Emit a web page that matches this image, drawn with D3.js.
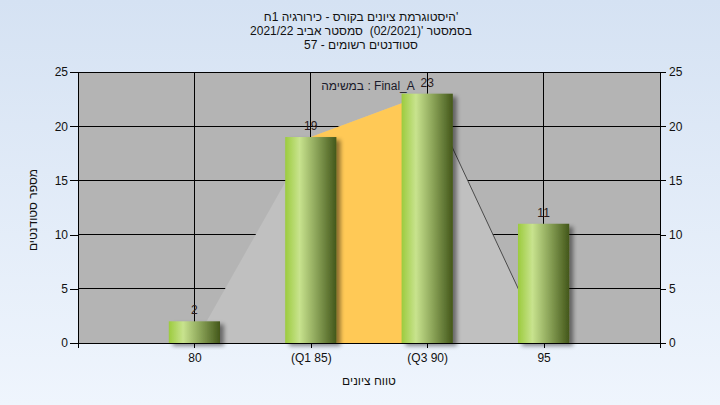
<!DOCTYPE html>
<html>
<head>
<meta charset="utf-8">
<script src="https://cdnjs.cloudflare.com/ajax/libs/d3/7.8.5/d3.min.js"></script>
<style>
  html, body { margin: 0; padding: 0; }
  body { width: 720px; height: 405px; overflow: hidden; }
  svg text { font-family: "Liberation Sans", Arial, sans-serif; white-space: pre; }
</style>
</head>
<body>
<svg id="chart" width="720" height="405"></svg>
<script>
// ---- data ----
const categories = ["80", "(Q1 85)", "(Q3 90)", "95"];
const counts = [2, 19, 23, 11];
const curveValues = [0, 19, 23, 0];
const yTicks = [0, 5, 10, 15, 20, 25];
const titleLines = [
  "היסטוגרמת ציונים בקורס - כירורגיה 1ח'",
  "בסמסטר '(02/2021)  סמסטר אביב 2021/22",
  "סטודנטים רשומים - 57"
];
const legendText = "במשימה : Final_A";
const xTitle = "טווח ציונים";
const yTitle = "מספר סטודנטים";

// ---- layout ----
const W = 720, H = 405;
const plot = { left: 78, right: 660, top: 72, bottom: 343 };

const svg = d3.select("#chart");
const defs = svg.append("defs");

const bgGrad = defs.append("linearGradient").attr("id", "bg").attr("x1", 0).attr("y1", 0).attr("x2", 0).attr("y2", 1);
bgGrad.append("stop").attr("offset", "0%").attr("stop-color", "#d5e2f3");
bgGrad.append("stop").attr("offset", "100%").attr("stop-color", "#eff5fd");

const barGrad = defs.append("linearGradient").attr("id", "barg").attr("x1", 0).attr("y1", 0).attr("x2", 1).attr("y2", 0);
barGrad.append("stop").attr("offset", "0%").attr("stop-color", "#9ccb3e");
barGrad.append("stop").attr("offset", "28%").attr("stop-color", "#c8e38e");
barGrad.append("stop").attr("offset", "60%").attr("stop-color", "#8da65a");
barGrad.append("stop").attr("offset", "100%").attr("stop-color", "#43571a");

const shadow = defs.append("filter").attr("id", "shadow").attr("x", "-20%").attr("y", "-20%").attr("width", "150%").attr("height", "150%");
shadow.append("feDropShadow").attr("dx", 4).attr("dy", 3).attr("stdDeviation", 2)
  .attr("flood-color", "#000").attr("flood-opacity", 0.45);

svg.append("rect").attr("width", W).attr("height", H).attr("fill", "url(#bg)");

const x = d3.scalePoint().domain(categories).range([plot.left, plot.right]).padding(1);
const y = d3.scaleLinear().domain([0, 25]).range([plot.bottom, plot.top]);
const barW = x.step() * 0.44;

// plot background
svg.append("rect").attr("x", plot.left).attr("y", plot.top)
  .attr("width", plot.right - plot.left).attr("height", plot.bottom - plot.top)
  .attr("fill", "#b4b4b4");

// grid
const grid = svg.append("g").attr("stroke", "#000").attr("stroke-width", 1).attr("shape-rendering", "crispEdges");
grid.selectAll("line.h").data(yTicks).join("line")
  .attr("x1", plot.left).attr("x2", plot.right)
  .attr("y1", d => y(d)).attr("y2", d => y(d));
grid.selectAll("line.v").data(categories).join("line")
  .attr("x1", d => x(d)).attr("x2", d => x(d))
  .attr("y1", plot.top).attr("y2", plot.bottom);

// distribution area
const pts = categories.map((c, i) => [x(c), y(curveValues[i])]);
const area = d3.area().x(d => d[0]).y0(plot.bottom).y1(d => d[1]);
svg.append("path").datum(pts).attr("d", area).attr("fill", "#c0c0c0");
svg.append("path").datum(pts.slice(1, 3)).attr("d", area).attr("fill", "#ffc956");
svg.append("path").datum(pts.slice(2, 4)).attr("d", d3.line())
  .attr("fill", "none").attr("stroke", "#4a4a4a").attr("stroke-width", 1);

// bars
svg.append("g").selectAll("rect").data(counts).join("rect")
  .attr("x", (d, i) => x(categories[i]) - barW / 2)
  .attr("y", d => y(d))
  .attr("width", barW)
  .attr("height", d => plot.bottom - y(d))
  .attr("fill", "url(#barg)")
  .attr("filter", "url(#shadow)");

// value labels
svg.append("g").selectAll("text").data(counts).join("text")
  .attr("x", (d, i) => x(categories[i]))
  .attr("y", d => y(d) - 7)
  .attr("text-anchor", "middle")
  .attr("font-size", 12)
  .attr("fill", "#2a1a1a")
  .text(d => d);

// legend text
svg.append("text").attr("x", (plot.left + plot.right) / 2 - 1).attr("y", 90)
  .attr("text-anchor", "middle").attr("font-size", 12).attr("fill", "#1a1a2a")
  .text(legendText);

// axes
const left = d3.axisLeft(y).tickValues(yTicks).tickSize(8).tickPadding(2);
const right = d3.axisRight(y).tickValues(yTicks).tickSize(6).tickPadding(3);
const bottom = d3.axisBottom(x).tickSize(5).tickPadding(5);

function styleAxis(g) {
  g.select(".domain").remove();
  g.selectAll("line").attr("stroke", "#000").attr("shape-rendering", "crispEdges");
  g.selectAll("text").attr("font-size", 12).attr("fill", "#111")
    .attr("font-family", "Liberation Sans, Arial, sans-serif");
}
svg.append("g").attr("transform", `translate(${plot.left},0)`).call(left).call(styleAxis);
svg.append("g").attr("transform", `translate(${plot.right},0)`).call(right).call(styleAxis);
svg.append("g").attr("transform", `translate(0,${plot.bottom})`).call(bottom).call(styleAxis);

// frame
svg.append("rect").attr("x", plot.left).attr("y", plot.top)
  .attr("width", plot.right - plot.left).attr("height", plot.bottom - plot.top)
  .attr("fill", "none").attr("stroke", "#000").attr("shape-rendering", "crispEdges");
// small tick below origin
svg.append("line").attr("x1", plot.left).attr("x2", plot.left).attr("y1", plot.bottom).attr("y2", plot.bottom + 5)
  .attr("stroke", "#000").attr("shape-rendering", "crispEdges");
svg.append("line").attr("x1", plot.right).attr("x2", plot.right).attr("y1", plot.bottom).attr("y2", plot.bottom + 5)
  .attr("stroke", "#000").attr("shape-rendering", "crispEdges");

// titles
svg.append("g").selectAll("text").data(titleLines).join("text")
  .attr("x", 361).attr("y", (d, i) => 21 + i * 14)
  .attr("text-anchor", "middle").attr("font-size", 12).attr("fill", "#111")
  .text(d => d);

svg.append("text").attr("x", 369).attr("y", 385).attr("text-anchor", "middle")
  .attr("font-size", 12).attr("fill", "#111").text(xTitle);

svg.append("text").attr("transform", "translate(37,210) rotate(-90)")
  .attr("text-anchor", "middle").attr("font-size", 12).attr("fill", "#111").text(yTitle);
</script>
</body>
</html>
